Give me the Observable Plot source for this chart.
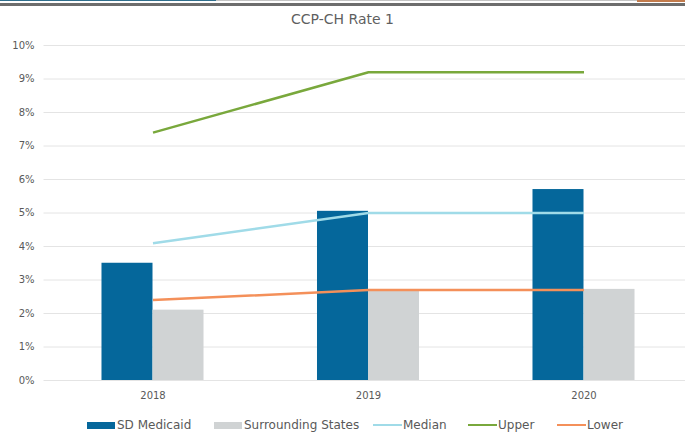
<!DOCTYPE html>
<html>
<head>
<meta charset="utf-8">
<script src="https://cdn.jsdelivr.net/npm/d3@7"></script>
<script src="https://cdn.jsdelivr.net/npm/@observablehq/plot@0.6"></script>
<style>
  html, body { margin: 0; padding: 0; background: #fff; overflow: hidden; }
  #wrap { position: relative; width: 685px; height: 432px; background: #fff; font-family: "DejaVu Sans", sans-serif; color: #595959; }
  #wrap svg { position: absolute; left: 0; top: 0; }
  .deco { position: absolute; }
  #title { position: absolute; left: 0; width: 685px; top: 10px; text-align: center; font-size: 14px; line-height: 19px; color: #5f5f5f; }
  .leg { position: absolute; top: 417px; height: 16px; display: flex; align-items: center; font-size: 12px; color: #595959; white-space: nowrap; }
  .sw { width: 28px; height: 7px; margin-right: 2px; }
  .ln { width: 29px; height: 2.5px; margin-right: 1px; }
</style>
</head>
<body>
<div id="wrap">
  <div id="chart"></div>
  <div class="deco" style="left:0;top:0;width:216px;height:1px;background:#2f6e8c"></div>
  <div class="deco" style="left:216px;top:0;width:421px;height:1px;background:#c4c4c4"></div>
  <div class="deco" style="left:637px;top:0;width:48px;height:1.5px;background:#c27b4c"></div>
  <div class="deco" style="left:0;top:3px;width:685px;height:3px;background:#6d6d6d"></div>
  <div id="title">CCP-CH Rate 1</div>
  <div id="legend"></div>
</div>
<script>
const years = [2018, 2019, 2020];
const sdMedicaid = [0.035, 0.0505, 0.057];
const surroundingStates = [0.021, 0.027, 0.0272];
const median = [0.041, 0.050, 0.050];
const upper = [0.074, 0.092, 0.092];
const lower = [0.024, 0.027, 0.027];
const yTicks = [0, 0.01, 0.02, 0.03, 0.04, 0.05, 0.06, 0.07, 0.08, 0.09, 0.10];

const seriesNames = ["SD Medicaid", "Surrounding States", "Median", "Upper", "Lower"];
const colors = {
  "SD Medicaid": "#05679b",
  "Surrounding States": "#d0d3d4",
  "Median": "#a0dbe8",
  "Upper": "#79a83c",
  "Lower": "#f4905a"
};

const rows = years.map((year, i) => ({
  year, sd: sdMedicaid[i], sur: surroundingStates[i],
  median: median[i], upper: upper[i], lower: lower[i]
}));

const bw = 0.2367; // bar width in year units

const chart = Plot.plot({
  width: 685,
  height: 432,
  marginTop: 45,
  marginBottom: 52,
  marginLeft: 43.5,
  marginRight: 0,
  style: { fontFamily: "DejaVu Sans", fontSize: "10px", color: "#595959", background: "transparent" },
  x: { type: "linear", domain: [2017.5, 2020.5], range: [44.75, 691.25], label: null },
  y: { domain: [0, 0.1], label: null },
  marks: [
    Plot.ruleY(yTicks, { stroke: "#e4e4e4", strokeWidth: 1 }),
    Plot.rect(rows, { x1: d => d.year - bw, x2: d => d.year, y1: 0, y2: "sd", fill: colors["SD Medicaid"] }),
    Plot.rect(rows, { x1: d => d.year, x2: d => d.year + bw, y1: 0, y2: "sur", fill: colors["Surrounding States"] }),
    Plot.line(rows, { x: "year", y: "median", stroke: colors["Median"], strokeWidth: 2.5, strokeLinecap: "butt" }),
    Plot.line(rows, { x: "year", y: "upper", stroke: colors["Upper"], strokeWidth: 2.5, strokeLinecap: "butt" }),
    Plot.line(rows, { x: "year", y: "lower", stroke: colors["Lower"], strokeWidth: 2.5, strokeLinecap: "butt" }),
    Plot.axisY({ ticks: yTicks, tickFormat: d3.format(".0%"), tickSize: 0, tickPadding: 9.5, fill: "#595959" }),
    Plot.axisX({ ticks: years, tickFormat: d => String(d), tickSize: 0, tickPadding: 11, fill: "#595959" })
  ]
});
document.getElementById("chart").appendChild(chart);

const legendLefts = [87, 214, 373, 468, 557];
const legend = document.getElementById("legend");
seriesNames.forEach((name, i) => {
  const item = document.createElement("div");
  item.className = "leg";
  item.style.left = legendLefts[i] + "px";
  const key = document.createElement("span");
  key.className = i < 2 ? "sw" : "ln";
  key.style.background = colors[name];
  key.style.display = "inline-block";
  const label = document.createElement("span");
  label.textContent = name;
  item.appendChild(key);
  item.appendChild(label);
  legend.appendChild(item);
});
</script>
</body>
</html>
